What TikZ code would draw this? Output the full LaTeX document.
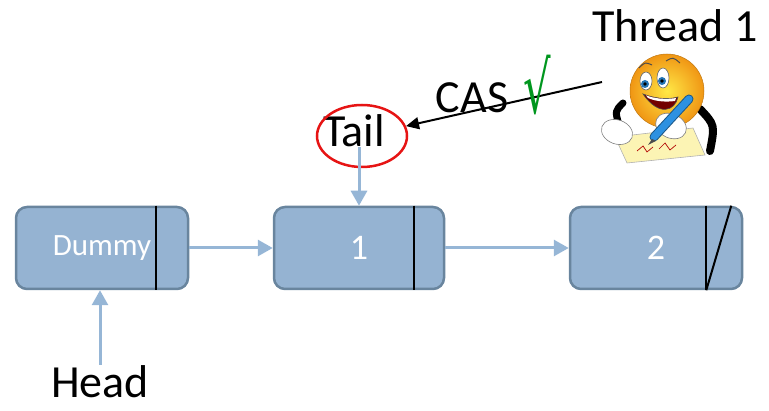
\documentclass[tikz,border=0pt]{standalone}
\usepackage{fontspec}
\setmainfont{Carlito}
\newfontfamily\symfont{DejaVu Sans}
\usepackage{tikz}
\usetikzlibrary{arrows.meta, positioning, calc, shapes.geometric}
\definecolor{nodefill}{RGB}{149,179,210}
\definecolor{nodeedge}{RGB}{105,133,158}
\definecolor{linkblue}{RGB}{150,182,214}
\definecolor{ringred}{RGB}{230,20,20}
\definecolor{tickgreen}{RGB}{0,150,30}
\definecolor{faceyellow}{RGB}{255,232,70}
\definecolor{faceorange}{RGB}{240,150,20}
\definecolor{penblue}{RGB}{45,145,225}
\definecolor{paperyellow}{RGB}{252,244,180}

\begin{document}
\begin{tikzpicture}[x=1pt, y=-1pt,
  cell/.style={rectangle, draw=nodeedge, line width=2.5pt, rounded corners=11pt,
               fill=nodefill, minimum width=#1, minimum height=82pt, inner sep=0pt,
               text=white, font=\fontsize{31}{33}\selectfont},
  bigtext/.style={anchor=base, inner sep=1pt, font=\fontsize{46}{50}\selectfont},
  link/.style={-{Triangle[length=15pt, width=16pt]}, line width=3pt, linkblue},
  divider/.style={line width=2pt, black},
  casarrow/.style={-{Triangle[length=13pt, width=12pt]}, line width=2pt, black},
]
  \useasboundingbox (0,0) rectangle (769,411);

  % queue nodes
  \node[cell=172pt] (dummy) at (102,248) {Dummy};
  \node[cell=170pt, font=\fontsize{36}{38}\selectfont] (one) at (359,248) {1};
  \node[cell=172pt, font=\fontsize{36}{38}\selectfont] (two) at (656,248) {2};

  \draw[divider] ([xshift=-33pt]dummy.north east) -- ([xshift=-33pt]dummy.south east);
  \draw[divider] ([xshift=-31pt]one.north east) -- ([xshift=-31pt]one.south east);
  \draw[divider] ([xshift=-37pt]two.north east) -- ([xshift=-37pt]two.south east);
  \draw[divider] ([xshift=-37pt]two.south east) -- ([xshift=-12pt]two.north east);

  \draw[link] (dummy) -- (one);
  \draw[link] (one) -- (two);

  % head and tail pointers
  \node[bigtext] (head) at (100,398) {Head};
  \draw[link] (head.north) -- (head.north |- dummy.south);

  \node[bigtext] (tail) at (354,147) {Tail};
  \node[ellipse, draw=ringred, line width=2.5pt, minimum width=90pt,
        minimum height=62pt, inner sep=0pt] (ring) at (362,136) {};
  \draw[link] (tail.base -| one.north) -- (one.north);

  % thread doing the CAS
  \node[bigtext] (thread) at (675,42) {Thread 1};
  \coordinate (grab) at (602,82);
  \draw[casarrow] (grab) -- (ring);
  \node[bigtext] (cas) at (472,113) {CAS};
  \node[anchor=base, inner sep=0pt, text=tickgreen, xscale=0.6,
        font=\symfont\fontsize{72}{74}\selectfont] (tick) at (537,114) {√};

  \begin{scope}[shift={(667,91)}]
    % arms behind
    \draw[line width=7pt, line cap=round] (-44,12) .. controls (-52,20) .. (-48,34);
    \draw[line width=8pt, line cap=round] (33,18) .. controls (48,34) .. (43,60);
    % paper
    \filldraw[fill=paperyellow, draw=black!30, line width=0.6pt]
      (-52,46) -- (26,37) -- (38,64) -- (-40,72) -- cycle;
    \draw[red!70!black, line width=0.7pt] (-30,60) -- (-24,55) -- (-20,61) -- (-14,56);
    \draw[red!70!black, line width=0.7pt] (-8,58) -- (-2,52) -- (3,59) -- (9,54);
    % face
    \shade[inner color=faceyellow, outer color=faceorange] (0,0) circle (37);
    \draw[faceorange!80!black, line width=0.5pt] (0,0) circle (37);
    % eyes
    \filldraw[fill=white, draw=black!60, line width=0.6pt] (-21,-10) ellipse (6 and 9);
    \filldraw[fill=white, draw=black!60, line width=0.6pt] (-4,-13) ellipse (6 and 10);
    \fill[penblue!80!black] (-22,-7) circle (4);
    \fill[penblue!80!black] (-5,-10) circle (4);
    \fill[black] (-22,-7) circle (1.8);
    \fill[black] (-5,-10) circle (1.8);
    \draw[black!70, line width=1pt] (-28,-23) .. controls (-22,-29) .. (-15,-26);
    \draw[black!70, line width=1pt] (-1,-30) .. controls (6,-34) .. (13,-28);
    % mouth
    \filldraw[fill=red!45!black, draw=black!70, line width=0.6pt]
      (-24,3) .. controls (-8,9) and (4,8) .. (11,6)
      .. controls (8,20) and (-8,26) .. (-24,3) -- cycle;
    \fill[white] (-21,4.5) .. controls (-8,9) and (3,8) .. (9,7) -- (8,10)
      .. controls (0,11) and (-10,11) .. (-19,7) -- cycle;
    % hands
    \filldraw[fill=white, draw=black!50, line width=0.6pt, rotate around={-20:(-50,41)}]
      (-50,41) ellipse (16 and 12);
    \filldraw[fill=white, draw=black!50, line width=0.6pt, rotate around={-25:(4,35)}]
      (4,35) ellipse (16 and 12);
    % pen
    \draw[penblue!60!black, line width=9pt, line cap=round] (22,8) -- (-13,46);
    \draw[penblue, line width=7pt, line cap=round] (22,8) -- (-13,46);
    \fill[black!70] (-15,48) -- (-19,54) -- (-11,50) -- cycle;
  \end{scope}
\end{tikzpicture}
\end{document}
